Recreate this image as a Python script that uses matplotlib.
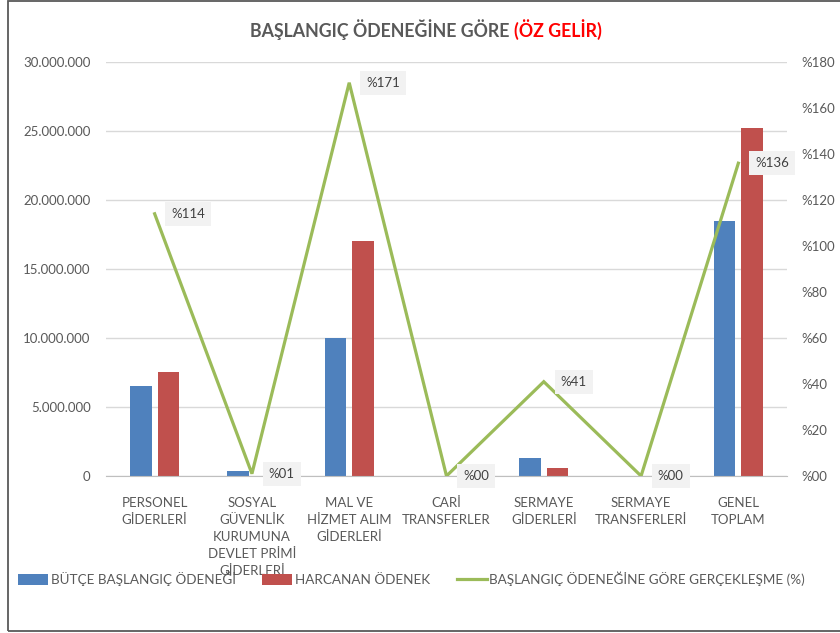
import numpy as np
import matplotlib
matplotlib.use("Agg")
import matplotlib.pyplot as plt
from matplotlib.ticker import FuncFormatter, MultipleLocator

plt.rcParams['font.family'] = ['Lato', 'DejaVu Sans']

# data
categories = ['PERSONEL\nGİDERLERİ', 'SOSYAL\nGÜVENLİK\nKURUMUNA\nDEVLET PRİMİ\nGİDERLERİ',
              'MAL VE\nHİZMET ALIM\nGİDERLERİ', 'CARİ\nTRANSFERLER', 'SERMAYE\nGİDERLERİ',
              'SERMAYE\nTRANSFERLERİ', 'GENEL\nTOPLAM']
butce = [6520000, 360000, 9990000, 0, 1330000, 0, 18450000]
harcanan = [7510000, 4000, 17050000, 0, 545000, 0, 25200000]
oran = [114, 1, 171, 0, 41, 0, 136]
oran_labels = ['%114', '%01', '%171', '%00', '%41', '%00', '%136']

blue = '#4f81bd'
red = '#c0504d'
green = '#9bbb59'
gray = '#595959'

fig = plt.figure(figsize=(8.4, 6.33), dpi=100)
ax = fig.add_axes([106/840, 1 - 476/633, (787 - 106)/840, (476 - 62)/633])
ax2 = ax.twinx()

x = np.arange(len(categories))
w = 0.223
ax.bar(x - 0.142, butce, w, color=blue, label='BÜTÇE BAŞLANGIÇ ÖDENEĞİ', zorder=2)
ax.bar(x + 0.142, harcanan, w, color=red, label='HARCANAN ÖDENEK', zorder=2)

ax2.plot(x, oran, color=green, lw=2.3, label='BAŞLANGIÇ ÖDENEĞİNE GÖRE GERÇEKLEŞME (%)',
         solid_joinstyle='miter')
for xi, yi, lab in zip(x, oran, oran_labels):
    ax2.annotate(lab, (xi, yi), xytext=(12, 0), textcoords='offset points',
                 ha='left', va='center', fontsize=9.5, color='#404040',
                 bbox=dict(boxstyle='square,pad=0.45', fc='#f2f2f2', ec='none'))

ax.set_xlim(-0.5, len(categories) - 0.5)
ax.set_ylim(0, 30000000)
ax.yaxis.set_major_locator(MultipleLocator(5000000))
ax.yaxis.set_major_formatter(FuncFormatter(lambda v, p: f'{int(v):,}'.replace(',', '.')))
ax2.set_ylim(0, 180)
ax2.yaxis.set_major_locator(MultipleLocator(20))
ax2.yaxis.set_major_formatter(FuncFormatter(lambda v, p: f'%{int(v):02d}'))

ax.set_xticks(x)
ax.set_xticklabels(categories, linespacing=1.5)
ax.tick_params(axis='x', length=0, pad=15, labelsize=9.5, labelcolor=gray)
ax.tick_params(axis='y', length=0, pad=11, labelsize=9.5, labelcolor=gray)
ax2.tick_params(axis='y', length=0, pad=10, labelsize=9.5, labelcolor=gray)

ax.grid(axis='y', color='#d9d9d9', lw=1, zorder=0)
ax.set_axisbelow(True)
for a in (ax, ax2):
    for s in a.spines.values():
        s.set_visible(False)
ax.spines['bottom'].set_visible(True)
ax.spines['bottom'].set_color('#bfbfbf')

# two-colour title
t1 = fig.text(250/840, 1 - 30/633, 'BAŞLANGIÇ ÖDENEĞİNE GÖRE ', fontsize=12.8,
              fontweight='bold', color=gray, ha='left', va='center')
ax.annotate('(ÖZ GELİR)', xy=(1, 0), xycoords=t1, ha='left', va='bottom',
            fontsize=12.8, fontweight='bold', color='#ff0000', annotation_clip=False)

h1, l1 = ax.get_legend_handles_labels()
h2, l2 = ax2.get_legend_handles_labels()
fig.legend(h1 + h2, l1 + l2, loc='center', bbox_to_anchor=(0.49, 1 - 579/633), ncol=3,
           frameon=False, fontsize=9.7, labelcolor=gray, handlelength=2.2,
           handleheight=0.8, handletextpad=0.2, columnspacing=2.0)

# chart border
fig.patches.append(plt.Rectangle((8/840, 1 - 631/633), 1.0, 630/633, transform=fig.transFigure,
                                 fill=False, ec=gray, lw=1.3, figure=fig))

fig.savefig('out.png', dpi=100)
